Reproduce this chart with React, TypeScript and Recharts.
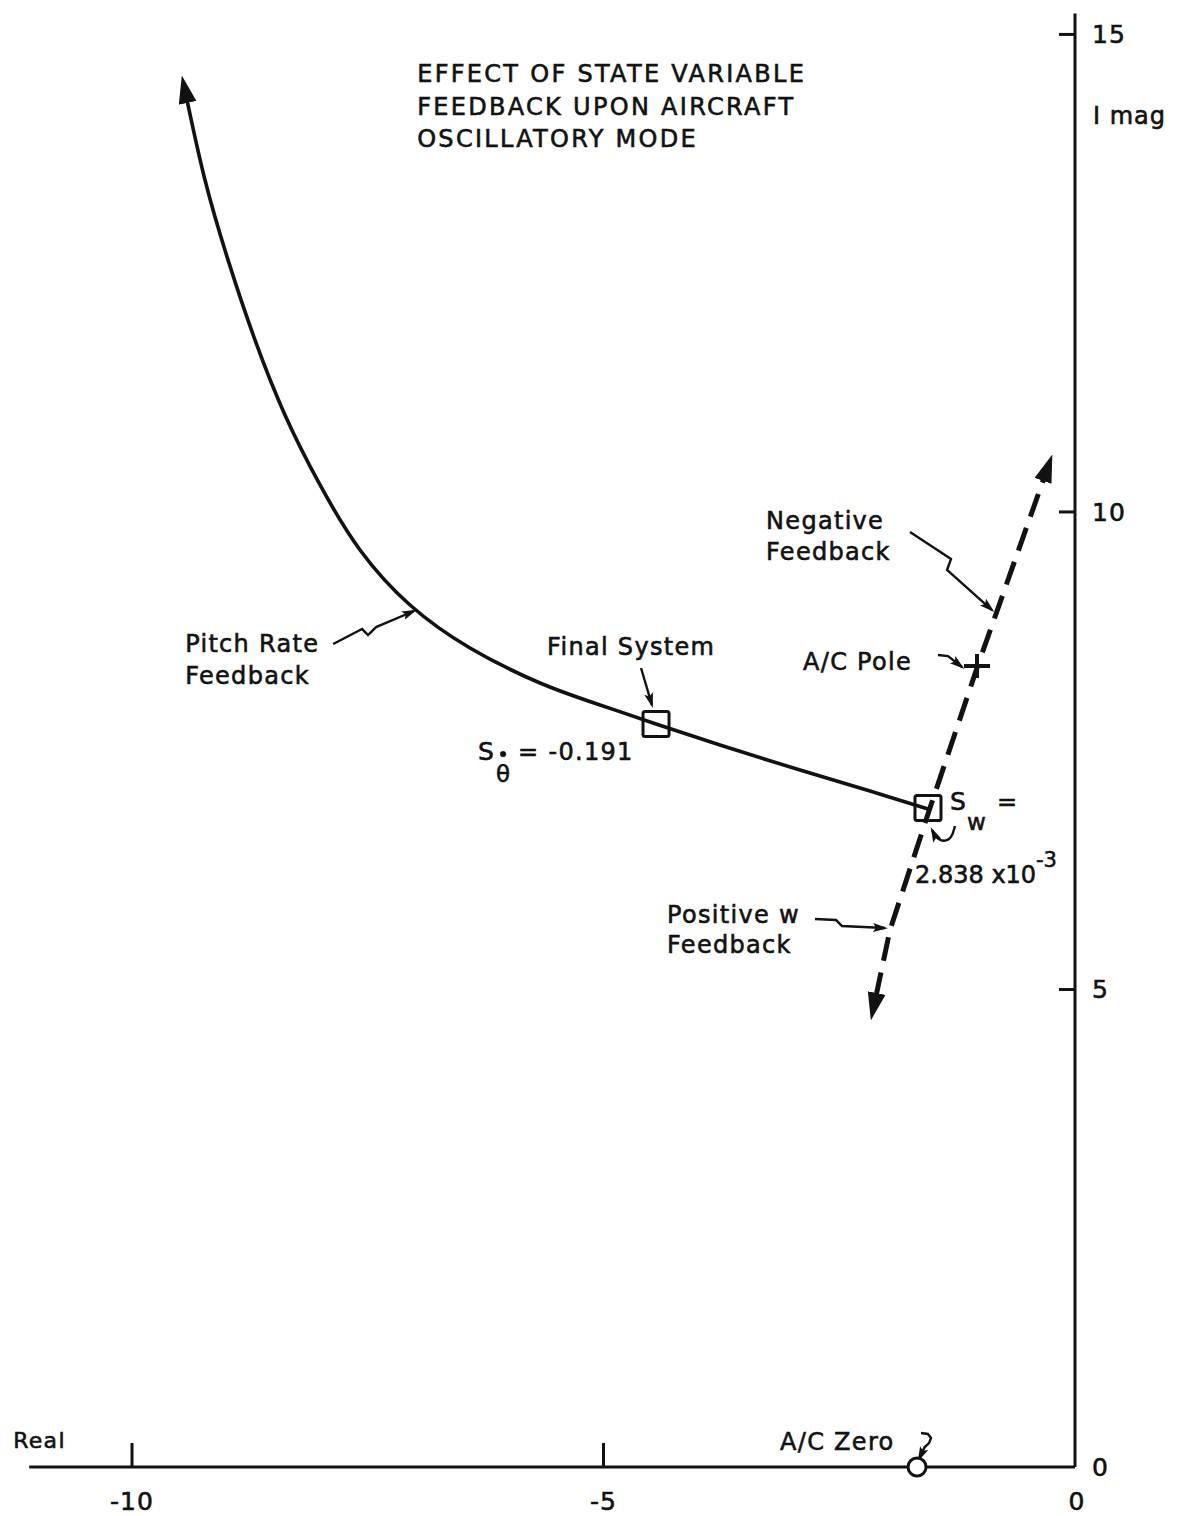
import React from 'react';
import { ComposedChart, Line, Scatter, XAxis, YAxis, ReferenceLine } from 'recharts';

// Axis ticks (real part, imaginary part)
const realTicks = [-10, -5, 0];
const imagTicks = [0, 5, 10, 15];

// Root locus of the oscillatory pole under pitch-rate feedback
const pitchRateLocus = [
  { x: -9.417, y: 14.314 },
  { x: -9.226, y: 13.476 },
  { x: -8.982, y: 12.639 },
  { x: -8.696, y: 11.801 },
  { x: -8.378, y: 11.016 },
  { x: -8.006, y: 10.283 },
  { x: -7.582, y: 9.602 },
  { x: -7.052, y: 9.026 },
  { x: -6.416, y: 8.576 },
  { x: -5.673, y: 8.209 },
  { x: -5.037, y: 7.979 },
  { x: -4.443, y: 7.78 },
  { x: -3.765, y: 7.56 },
  { x: -2.916, y: 7.298 },
  { x: -2.174, y: 7.078 },
  { x: -1.559, y: 6.889 },
];

// Locus under w feedback (positive gain downward, negative gain upward)
const wFeedbackLocus = [
  { x: -2.11, y: 4.932 },
  { x: -1.962, y: 5.623 },
  { x: -1.538, y: 6.9 },
  { x: -1.029, y: 8.397 },
  { x: -0.329, y: 10.355 },
];

const finalSystemPoint = [{ x: -4.443, y: 7.78 }];
const wGainPoint = [{ x: -1.559, y: 6.9 }];
const aircraftPole = [{ x: -1.039, y: 8.387 }];
const aircraftZero = [{ x: -1.675, y: 0 }];

// Leader lines from the annotations to the curves
const pitchLeader = [
  { x: -7.867, y: 8.617 },
  { x: -7.56, y: 8.774 },
  { x: -7.497, y: 8.711 },
  { x: -7.412, y: 8.795 },
  { x: -7.009, y: 8.963 },
];
const finalLeader = [
  { x: -4.602, y: 8.366 },
  { x: -4.486, y: 7.978 },
];
const negativeLeader = [
  { x: -1.75, y: 9.79 },
  { x: -1.315, y: 9.507 },
  { x: -1.357, y: 9.392 },
  { x: -0.88, y: 8.973 },
];
const poleLeader = [
  { x: -1.453, y: 8.502 },
  { x: -1.347, y: 8.491 },
  { x: -1.198, y: 8.376 },
];
const positiveLeader = [
  { x: -2.757, y: 5.738 },
  { x: -2.534, y: 5.727 },
  { x: -2.471, y: 5.664 },
  { x: -2.015, y: 5.643 },
];
const zeroLeader = [
  { x: -1.633, y: 0.356 },
  { x: -1.56, y: 0.346 },
  { x: -1.527, y: 0.304 },
  { x: -1.548, y: 0.25 },
  { x: -1.594, y: 0.209 },
  { x: -1.654, y: 0.084 },
];
const wGainLeader = [
  { x: -1.273, y: 6.712 },
  { x: -1.305, y: 6.586 },
  { x: -1.389, y: 6.544 },
  { x: -1.474, y: 6.586 },
  { x: -1.516, y: 6.67 },
];

// Text annotations anchored in the s-plane
const annotations = [
  { id: 'title', x: -6.976, y: 14.501, lines: ['EFFECT OF STATE VARIABLE', 'FEEDBACK UPON AIRCRAFT', 'OSCILLATORY MODE'] },
  { id: 'pitch', x: -9.436, y: 8.533, lines: ['Pitch Rate', 'Feedback'] },
  { id: 'final', x: -5.598, y: 8.502, lines: ['Final System'] },
  { id: 'negative', x: -3.276, y: 9.821, lines: ['Negative', 'Feedback'] },
  { id: 'pole', x: -2.884, y: 8.345, lines: ['A/C Pole'] },
  { id: 'positive', x: -4.326, y: 5.696, lines: ['Positive w', 'Feedback'] },
  { id: 'zero', x: -3.128, y: 0.178, lines: ['A/C Zero'] },
  { id: 'real', x: -11.26, y: 0.199, lines: ['Real'] },
];
const thetaGain = [{ x: -6.33, y: 7.402, value: '-0.191' }];
const wGain = [{ x: -1.325, y: 6.879, mantissa: '2.838', exponent: '-3' }];

const INK = '#121212';
const FONT = '"DejaVu Sans", sans-serif';
const TEXT_STROKE = { stroke: INK, strokeWidth: 0.6 };

const lineGap: Record<string, number> = {
  title: 32.5,
  pitch: 32,
  negative: 31,
  positive: 30,
};

const AnnotationText = (props: any) => {
  const { cx, cy, payload } = props;
  const isTitle = payload.id === 'title';
  const gap = lineGap[payload.id] ?? 31;
  return (
    <text
      x={cx}
      y={cy}
      fill={INK}
      {...TEXT_STROKE}
      fontFamily={FONT}
      fontSize={payload.id === 'real' ? 22 : 24}
      letterSpacing={isTitle ? 2.3 : 1.3}
    >
      {payload.lines.map((t: string, i: number) => (
        <tspan key={i} x={cx} dy={i === 0 ? 0 : gap}>
          {t}
        </tspan>
      ))}
    </text>
  );
};

const ThetaGainText = (props: any) => {
  const { cx, cy, payload } = props;
  return (
    <g fill={INK} {...TEXT_STROKE} fontFamily={FONT}>
      <text x={cx} y={cy} fontSize={25}>S</text>
      <text x={cx + 18} y={cy + 22} fontSize={23}>θ</text>
      <circle cx={cx + 25} cy={cy - 6} r={2.8} fill={INK} />
      <text x={cx + 40} y={cy} fontSize={24} letterSpacing={1.3}>
        = {payload.value}
      </text>
    </g>
  );
};

const WGainText = (props: any) => {
  const { cx, cy, payload } = props;
  return (
    <g fill={INK} {...TEXT_STROKE} fontFamily={FONT}>
      <text x={cx} y={cy} fontSize={25}>S</text>
      <text x={cx + 17} y={cy + 20} fontSize={23}>w</text>
      <text x={cx + 47} y={cy} fontSize={24}>=</text>
      <text x={cx - 35} y={cy + 73} fontSize={24}>
        {payload.mantissa} x10
      </text>
      <text x={cx + 86} y={cy + 57} fontSize={21}>{payload.exponent}</text>
    </g>
  );
};

const SquareMark = (props: any) => {
  const { cx, cy } = props;
  return <rect x={cx - 13} y={cy - 12.5} width={26} height={25} fill="none" stroke={INK} strokeWidth={3} rx={2} />;
};

const PlusMark = (props: any) => {
  const { cx, cy } = props;
  return (
    <g stroke={INK} strokeWidth={4}>
      <line x1={cx - 13} x2={cx + 13} y1={cy} y2={cy} />
      <line x1={cx} x2={cx} y1={cy - 12} y2={cy + 12} />
    </g>
  );
};

const CircleMark = (props: any) => {
  const { cx, cy } = props;
  return <circle cx={cx} cy={cy} r={9} fill="#fff" stroke={INK} strokeWidth={3} />;
};

const RealTick = (props: any) => {
  const { x, y, payload } = props;
  const v = payload.value;
  return (
    <g>
      {v !== 0 && <line x1={x} x2={x} y1={y - 24} y2={y} stroke={INK} strokeWidth={3} />}
      <text x={v === 0 ? x + 2 : x} y={y + 43} textAnchor="middle" fill={INK} {...TEXT_STROKE} fontFamily={FONT} fontSize={25} letterSpacing={1}>
        {v}
      </text>
    </g>
  );
};

const ImagTick = (props: any) => {
  const { x, y, payload } = props;
  const v = payload.value;
  return (
    <g>
      {v !== 0 && <line x1={x - 16} x2={x} y1={y} y2={y} stroke={INK} strokeWidth={3} />}
      <text x={x + 17} y={y + 9} fill={INK} {...TEXT_STROKE} fontFamily={FONT} fontSize={25} letterSpacing={1}>
        {v}
      </text>
    </g>
  );
};

const ImagLabel = (props: any) => {
  const { viewBox } = props;
  return (
    <text x={viewBox.x + 18} y={viewBox.y + 123} fill={INK} {...TEXT_STROKE} fontFamily={FONT} fontSize={24} letterSpacing={1}>
      I mag
    </text>
  );
};

const leaders = [pitchLeader, finalLeader, negativeLeader, poleLeader, positiveLeader, zeroLeader];

export default function App() {
  return (
    <div style={{ position: 'absolute', left: 0, top: 0, width: 1180, height: 1516, background: '#fff' }}>
      <svg width={0} height={0} style={{ position: 'absolute' }}>
        <defs>
          <marker id="locusArrow" viewBox="0 0 28 18" markerWidth={28} markerHeight={18} refX={3} refY={9} orient="auto-start-reverse" markerUnits="userSpaceOnUse">
            <path d="M0,0 L28,9 L0,18 Z" fill={INK} />
          </marker>
          <marker id="leaderArrow" viewBox="0 0 15 9" markerWidth={15} markerHeight={9} refX={12} refY={4.5} orient="auto" markerUnits="userSpaceOnUse">
            <path d="M0,0 L15,4.5 L0,9 L3,4.5 Z" fill={INK} />
          </marker>
        </defs>
      </svg>
      <ComposedChart width={1180} height={1516} margin={{ top: 1, right: 25, bottom: 9, left: 0 }}>
        <XAxis
          type="number"
          dataKey="x"
          domain={[-11.4, 0]}
          ticks={realTicks}
          interval={0}
          height={40}
          axisLine={false}
          tickLine={false}
          tickSize={0}
          tickMargin={0}
          tick={<RealTick />}
        />
        <YAxis
          type="number"
          dataKey="y"
          orientation="right"
          domain={[0, 15.35]}
          ticks={imagTicks}
          interval={0}
          width={80}
          axisLine={false}
          tickLine={false}
          tickSize={0}
          tickMargin={0}
          tick={<ImagTick />}
          label={<ImagLabel />}
        />
        <ReferenceLine segment={[{ x: -11.09, y: 0 }, { x: 0, y: 0 }]} stroke={INK} strokeWidth={3} />
        <ReferenceLine segment={[{ x: 0, y: 0 }, { x: 0, y: 15.22 }]} stroke={INK} strokeWidth={3} />

        <Line
          data={pitchRateLocus}
          dataKey="y"
          type="natural"
          stroke={INK}
          strokeWidth={3.6}
          dot={false}
          activeDot={false}
          isAnimationActive={false}
          markerStart="url(#locusArrow)"
        />
        <Line
          data={wFeedbackLocus}
          dataKey="y"
          type="linear"
          stroke={INK}
          strokeWidth={5}
          strokeDasharray="24 12"
          dot={false}
          activeDot={false}
          isAnimationActive={false}
          markerStart="url(#locusArrow)"
          markerEnd="url(#locusArrow)"
        />
        {leaders.map((d, i) => (
          <Line
            key={i}
            data={d}
            dataKey="y"
            type="linear"
            stroke={INK}
            strokeWidth={2.4}
            dot={false}
            activeDot={false}
            isAnimationActive={false}
            markerEnd="url(#leaderArrow)"
          />
        ))}
        <Line
          data={wGainLeader}
          dataKey="y"
          type="basis"
          stroke={INK}
          strokeWidth={2.4}
          dot={false}
          activeDot={false}
          isAnimationActive={false}
          markerEnd="url(#leaderArrow)"
        />

        <Scatter data={finalSystemPoint} dataKey="y" shape={<SquareMark />} isAnimationActive={false} />
        <Scatter data={wGainPoint} dataKey="y" shape={<SquareMark />} isAnimationActive={false} />
        <Scatter data={aircraftPole} dataKey="y" shape={<PlusMark />} isAnimationActive={false} />
        <Scatter data={aircraftZero} dataKey="y" shape={<CircleMark />} isAnimationActive={false} />

        <Scatter data={annotations} dataKey="y" shape={<AnnotationText />} isAnimationActive={false} />
        <Scatter data={thetaGain} dataKey="y" shape={<ThetaGainText />} isAnimationActive={false} />
        <Scatter data={wGain} dataKey="y" shape={<WGainText />} isAnimationActive={false} />
      </ComposedChart>
    </div>
  );
}
